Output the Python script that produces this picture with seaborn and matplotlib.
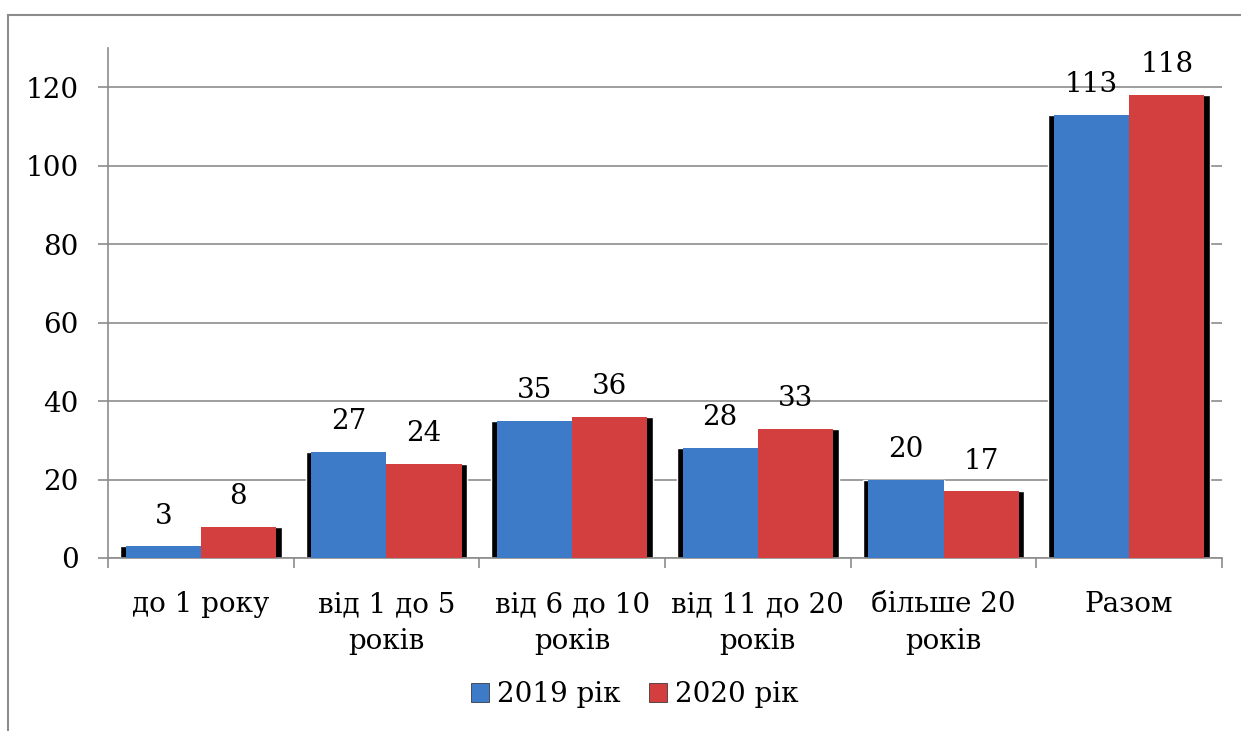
import pandas as pd
import numpy as np
import matplotlib
matplotlib.use('Agg')
import matplotlib.pyplot as plt
import seaborn as sns
from matplotlib.patches import Patch, Rectangle
from matplotlib.ticker import FixedLocator

categories = ['до 1 року', 'від 1 до 5\nроків', 'від 6 до 10\nроків',
              'від 11 до 20\nроків', 'більше 20\nроків', 'Разом']
years = ['2019 рік', '2020 рік']
values_2019 = [3, 27, 35, 28, 20, 113]
values_2020 = [8, 24, 36, 33, 17, 118]
colors = ['#3D7BC8', '#D33F3E']

df = pd.DataFrame({
    'category': categories * 2,
    'year': [years[0]] * len(categories) + [years[1]] * len(categories),
    'value': values_2019 + values_2020,
})

sns.set_style('white')
plt.rcParams['font.family'] = ['DejaVu Serif']
plt.rcParams['text.color'] = 'black'
plt.rcParams['xtick.color'] = 'black'
plt.rcParams['ytick.color'] = 'black'

fig = plt.figure(figsize=(12.41, 7.31), dpi=100)
ax = fig.add_axes([0.087, 0.2367, 0.8977, 0.6976])

# dark shadow behind the bars
sns.barplot(data=df, x='category', y='value', hue='year', palette=['black', 'black'],
            width=0.87, ax=ax, legend=False, errorbar=None, zorder=2, saturation=1)
sns.barplot(data=df, x='category', y='value', hue='year', palette=colors,
            width=0.81, ax=ax, legend=False, errorbar=None, zorder=3,
            edgecolor='none', saturation=1)

for cont in ax.containers[2:]:
    ax.bar_label(cont, labels=[str(int(v)) for v in cont.datavalues],
                 padding=12, fontsize=20, color='black')

ax.set_ylim(0, 130)
ax.set_xlim(-0.5, len(categories) - 0.5)
ax.yaxis.set_major_locator(FixedLocator([0, 20, 40, 60, 80, 100, 120]))
ax.grid(axis='y', color='#8c8c8c', linewidth=1.2)
ax.set_axisbelow(True)
ax.set_xlabel('')
ax.set_ylabel('')

for s in ['top', 'right']:
    ax.spines[s].set_visible(False)
for s in ['left', 'bottom']:
    ax.spines[s].set_color('#8c8c8c')
    ax.spines[s].set_linewidth(1.2)

ax.tick_params(axis='y', direction='out', length=7, width=1.2, color='#8c8c8c',
               labelsize=20, pad=14, left=True, labelcolor='black')
ax.tick_params(axis='x', which='major', length=0, labelsize=20, pad=24,
               labelcolor='black')
for lbl in ax.get_xticklabels():
    lbl.set_linespacing(1.45)
ax.xaxis.set_minor_locator(FixedLocator(np.arange(-0.5, len(categories), 1.0)))
ax.tick_params(axis='x', which='minor', direction='out', length=7, width=1.2,
               color='#8c8c8c', bottom=True)

handles = [Patch(facecolor=c, edgecolor='#222222', linewidth=0.5) for c in colors]
fig.legend(handles, years, loc='center', bbox_to_anchor=(635 / 1241, 1 - 695 / 731),
           ncol=2, frameon=False, fontsize=20, handlelength=0.65, handleheight=0.65,
           handletextpad=0.3, columnspacing=1.0)

fig.patches.append(Rectangle((8 / 1241, -0.01), 1.1, 1 - 15 / 731 + 0.01,
                             transform=fig.transFigure, fill=False,
                             edgecolor='#8c8c8c', linewidth=1.5))

fig.savefig('out.png', dpi=100)
